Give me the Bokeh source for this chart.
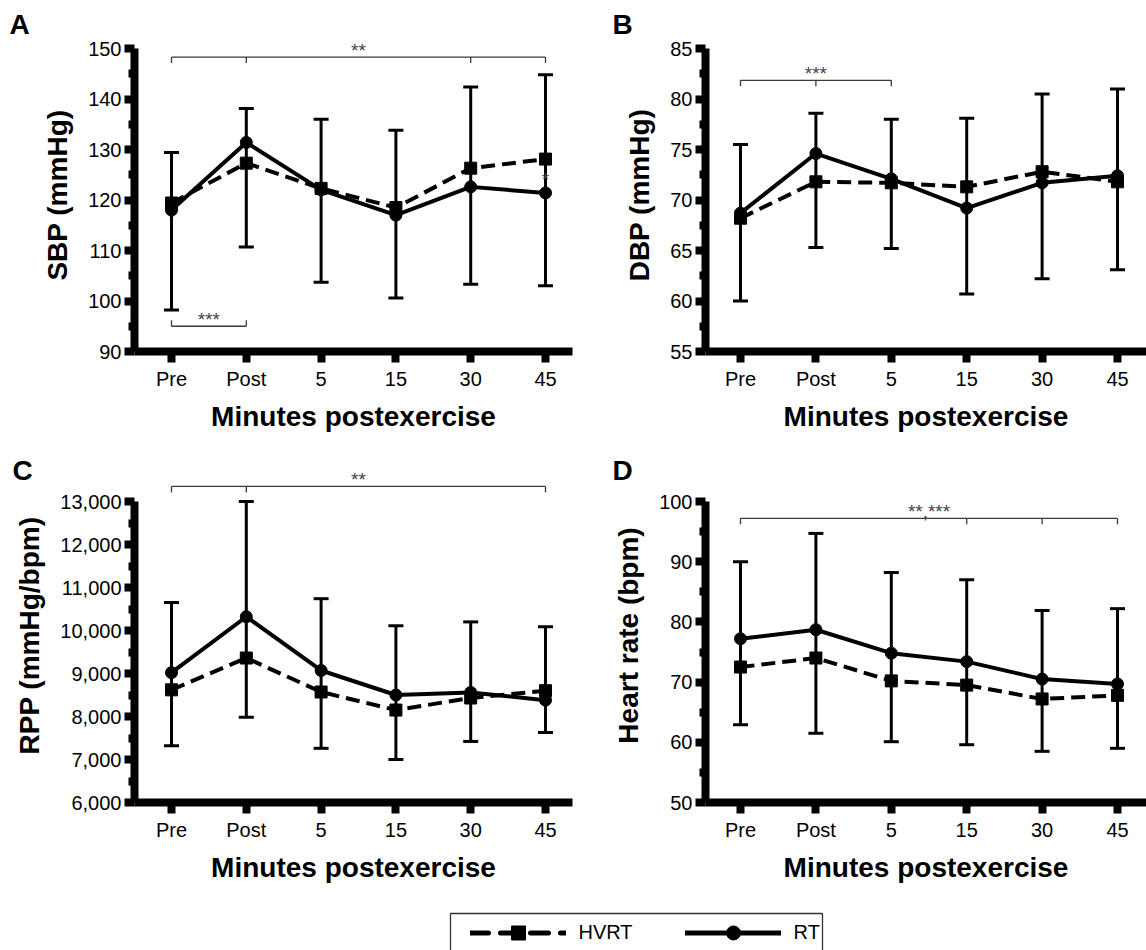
from bokeh.plotting import figure
from bokeh.layouts import row, column
from bokeh.models import (ColumnDataSource, FixedTicker, NumeralTickFormatter, Range1d,
                          Whisker, TeeHead, Label, Legend, LegendItem)
from bokeh.embed import file_html
from bokeh.resources import INLINE

# ---------------- data ----------------
categories = ["Pre", "Post", "5", "15", "30", "45"]

sbp_hvrt = [119.4, 127.3, 122.3, 118.5, 126.3, 128.1]
sbp_rt = [118.0, 131.4, 122.0, 117.0, 122.6, 121.4]
sbp_err_hi = [129.4, 138.1, 136.0, 133.8, 142.4, 144.8]
sbp_err_lo = [98.2, 110.7, 103.7, 100.6, 103.3, 103.0]

dbp_hvrt = [68.2, 71.8, 71.7, 71.3, 72.8, 71.8]
dbp_rt = [68.7, 74.6, 72.1, 69.2, 71.7, 72.4]
dbp_err_hi = [75.5, 78.6, 78.0, 78.1, 80.5, 81.0]
dbp_err_lo = [60.0, 65.3, 65.2, 60.7, 62.2, 63.1]

rpp_hvrt = [8620, 9360, 8570, 8150, 8430, 8600]
rpp_rt = [9020, 10320, 9070, 8500, 8560, 8380]
rpp_err_hi = [10650, 13000, 10740, 10110, 10200, 10090]
rpp_err_lo = [7320, 7980, 7260, 7000, 7420, 7630]

hr_hvrt = [72.5, 74.0, 70.2, 69.5, 67.2, 67.8]
hr_rt = [77.2, 78.7, 74.8, 73.4, 70.5, 69.7]
hr_err_hi = [90.0, 94.7, 88.2, 87.0, 81.9, 82.2]
hr_err_lo = [62.9, 61.5, 60.1, 59.6, 58.5, 59.0]

sbp_yticks = [90, 100, 110, 120, 130, 140, 150]
dbp_yticks = [55, 60, 65, 70, 75, 80, 85]
rpp_yticks = [6000, 7000, 8000, 9000, 10000, 11000, 12000, 13000]
hr_yticks = [50, 60, 70, 80, 90, 100]

# significance brackets: (from index, to index, level, tip direction, inner ticks, text)
sbp_sig = [(0, 5, 148.3, -1, [1, 4], "**"), (0, 1, 95.0, 1, [], "***")]
dbp_sig = [(0, 2, 81.85, -1, [1], "***")]
rpp_sig = [(0, 5, 13350, -1, [1], "**")]
hr_sig = [(0, 5, 97.2, -1, [3, 4], "**,***")]

FONT = "Liberation Sans"
AXW = 8  # nominal axis stroke (half of it lies outside the frame clip)


def minor_between(t):
    return [(a + b) / 2 for a, b in zip(t[:-1], t[1:])]


def make_panel(g, hvrt, rt, hi, lo, ylabel, yticks, fmt, sig, letter, star_at=None):
    W, H = g["w"], g["h"]
    fl, ft, fr, fb = g["frame"]
    pre_px, xppu = g["pre_px"], g["xppu"]
    yv, ypx, yppu = g["yanchor"]

    def x_of(px):
        return (px - pre_px) / xppu

    def y_of(py):
        return yv + (ypx - py) / yppu

    p = figure(width=W, height=H,
               x_range=Range1d(x_of(fl), x_of(fr)), y_range=Range1d(y_of(fb), y_of(ft)),
               output_backend="svg", toolbar_location=None,
               min_border_left=fl, min_border_top=ft,
               min_border_right=W - fr, min_border_bottom=H - fb)
    p.outline_line_color = None
    p.grid.visible = False
    p.background_fill_color = "white"
    p.border_fill_color = "white"

    xs = list(range(len(categories)))
    src = ColumnDataSource(dict(x=xs, hvrt=hvrt, rt=rt, hi=hi, lo=lo))
    p.add_layout(Whisker(source=src, base="x", upper="hi", lower="lo",
                         line_width=3, line_color="black",
                         upper_head=TeeHead(size=15, line_width=3, line_color="black"),
                         lower_head=TeeHead(size=15, line_width=3, line_color="black")))
    p.line("x", "hvrt", source=src, line_width=4, line_dash="14 7", color="black")
    p.line("x", "rt", source=src, line_width=4, color="black")
    p.scatter("x", "hvrt", source=src, marker="square", size=12, color="black")
    p.scatter("x", "rt", source=src, marker="circle", size=12, color="black")

    tip = 6 / yppu
    for (a, b, lev, d, inner, txt) in sig:
        xs_l = [[a, b], [a, a], [b, b]] + [[t, t] for t in inner]
        ys_l = [[lev, lev], [lev, lev + d * tip], [lev, lev + d * tip]] + [[lev, lev - tip] for t in inner]
        p.multi_line(xs_l, ys_l, line_color="#3a3a3a", line_width=1.3)
        p.add_layout(Label(x=(a + b) / 2, y=lev, text=txt, text_align="center",
                           text_baseline="alphabetic", y_offset=7,
                           text_font=FONT, text_font_size="19px", text_color="#444444"))
    if star_at is not None:
        p.add_layout(Label(x=star_at, y=rt[star_at], text="*", text_align="center",
                           text_baseline="alphabetic", y_offset=13,
                           text_font=FONT, text_font_size="19px", text_color="#444444"))

    # axes
    xa = p.xaxis[0]
    ya = p.yaxis[0]
    xa.ticker = FixedTicker(ticks=xs)
    xa.major_label_overrides = {i: c for i, c in zip(xs, categories)}
    xa.axis_label = "Minutes postexercise"
    xa.bounds = (x_of(fl - 12), x_of(fr))
    ya.ticker = FixedTicker(ticks=yticks, minor_ticks=minor_between(yticks))
    ya.bounds = (yticks[0], yticks[-1])
    if fmt:
        ya.formatter = NumeralTickFormatter(format=fmt)
    ya.axis_label = ylabel
    for ax in (xa, ya):
        ax.axis_line_width = AXW
        ax.axis_line_color = "black"
        ax.major_tick_line_width = AXW
        ax.major_tick_line_color = "black"
        ax.major_tick_in = 0
        ax.major_label_text_font = FONT
        ax.major_label_text_font_size = "20px"
        ax.major_label_text_color = "black"
        ax.axis_label_text_font = FONT
        ax.axis_label_text_font_size = "28px"
        ax.axis_label_text_font_style = "bold"
        ax.axis_label_text_color = "black"
    xa.major_tick_out = 11
    xa.minor_tick_line_color = None
    xa.major_label_standoff = 5
    xa.axis_label_standoff = 8
    ya.major_tick_out = 10
    ya.minor_tick_out = 6
    ya.minor_tick_in = 0
    ya.minor_tick_line_width = AXW
    ya.minor_tick_line_color = "black"
    ya.major_label_standoff = 3
    ya.axis_label_standoff = 12

    # panel letter as a left-aligned title pulled down next to the frame
    lx, lby = g["letter"]
    p.title.text = letter
    p.title.align = "left"
    p.title.offset = lx - fl
    p.title.text_font = FONT
    p.title.text_font_size = "28px"
    p.title.text_font_style = "bold"
    p.title.text_color = "black"
    p.title.standoff = int(2 * (ft - 6 - lby))
    return p


# figure geometry: frame (left, top, right, bottom) in each figure's own pixels
geoA = dict(w=573, h=448, frame=(134, 38, 572, 351), pre_px=171, xppu=74.8,
            yanchor=(90, 351, 5.05), letter=(9, 33))
geoB = dict(w=573, h=448, frame=(132, 38, 573, 351), pre_px=167, xppu=75.4,
            yanchor=(55, 351, 10.1), letter=(39, 33))
geoC = dict(w=573, h=455, frame=(134, 20, 572, 354), pre_px=171, xppu=74.8,
            yanchor=(6000, 354, 301 / 7000), letter=(12, 31))
geoD = dict(w=573, h=455, frame=(132, 20, 573, 354), pre_px=167, xppu=75.4,
            yanchor=(50, 354, 6.02), letter=(39, 31))

pA = make_panel(geoA, sbp_hvrt, sbp_rt, sbp_err_hi, sbp_err_lo, "SBP (mmHg)", sbp_yticks, None,
                sbp_sig, "A", star_at=5)
pB = make_panel(geoB, dbp_hvrt, dbp_rt, dbp_err_hi, dbp_err_lo, "DBP (mmHg)", dbp_yticks, None,
                dbp_sig, "B")
pC = make_panel(geoC, rpp_hvrt, rpp_rt, rpp_err_hi, rpp_err_lo, "RPP (mmHg/bpm)", rpp_yticks, "0,0",
                rpp_sig, "C")
pD = make_panel(geoD, hr_hvrt, hr_rt, hr_err_hi, hr_err_lo, "Heart rate (bpm)", hr_yticks, None,
                hr_sig, "D")

# ---------------- legend strip ----------------
pl = figure(width=1146, height=47, x_range=Range1d(0, 1146), y_range=Range1d(47, 0),
            output_backend="svg", toolbar_location=None, min_border=0,
            x_axis_type=None, y_axis_type=None)
pl.title.visible = False
pl.outline_line_color = None
pl.grid.visible = False
pl.line([450, 450, 822, 822], [70, 10, 10, 70], line_color="#333333", line_width=1.3)
off = [-100, -90]
r_h_line = pl.line(x=off, y=off, line_width=5, line_dash="18 12", line_cap="round", color="black")
r_h_mark = pl.scatter(x=off, y=off, marker="square", size=14, color="black")
r_r_line = pl.line(x=off, y=off, line_width=5, line_cap="round", color="black")
r_r_mark = pl.scatter(x=off, y=off, marker="circle", size=14, color="black")
legend = Legend(items=[LegendItem(label="HVRT", renderers=[r_h_line, r_h_mark]),
                       LegendItem(label="RT", renderers=[r_r_line, r_r_mark])],
                orientation="horizontal", location=(469.5, 0.5), padding=0, spacing=52, margin=0,
                glyph_width=96, glyph_height=35, label_standoff=13,
                label_text_font=FONT, label_text_font_size="20px", label_text_color="black",
                border_line_color=None, background_fill_alpha=0)
pl.add_layout(legend)

layout = column(row(pA, pB), row(pC, pD), pl)
open("out.html", "w").write(file_html(layout, INLINE))
